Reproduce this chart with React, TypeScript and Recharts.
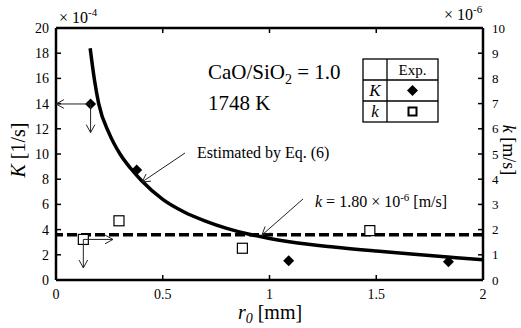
import React from "react";
import { ComposedChart, Line, Scatter, XAxis, YAxis, ReferenceLine } from "recharts";

const serif = '"Liberation Serif", "Times New Roman", serif';

// axes
const rTicks = [0, 0.5, 1, 1.5, 2];
const KTicks = [0, 2, 4, 6, 8, 10, 12, 14, 16, 18, 20];
const kTicks = [0, 1, 2, 3, 4, 5, 6, 7, 8, 9, 10];

// experimental K [x1e-4 1/s]
const expKr = [0.162, 0.378, 1.09, 1.838];
const expKv = [13.97, 8.73, 1.53, 1.45];

// experimental k [x1e-6 m/s]
const expkr = [0.128, 0.295, 0.873, 1.47];
const expkv = [1.61, 2.35, 1.26, 1.96];

// curve estimated by Eq. (6)
const estR = [0.16, 0.18, 0.2, 0.25, 0.3, 0.35, 0.4, 0.5, 0.6, 0.7, 0.8, 0.9, 1.0, 1.1, 1.3, 1.5, 1.75, 2.0];
const estK = [18.4, 15.9, 14.0, 11.6, 10.0, 8.85, 7.9, 6.4, 5.4, 4.68, 4.1, 3.65, 3.3, 3.02, 2.62, 2.3, 1.95, 1.6];

const kMean = 1.8;

const zip = (xs: number[], ys: number[]) => xs.map((r, i) => ({ r, v: ys[i] }));
const KData = zip(expKr, expKv);
const kData = zip(expkr, expkv);
const estData = zip(estR, estK);

// plot box (pixels), used for the annotation overlay
const W = 521;
const H = 328;
const L = 56;
const R = 483;
const T = 28;
const B = 280;
const sx = (r: number) => L + (r / 2) * (R - L);
const sK = (v: number) => B - (v / 20) * (B - T);
const sk = (v: number) => B - (v / 10) * (B - T);

const Diamond = (p: any) => {
  const { cx, cy } = p;
  const s = 5.5;
  return <path d={`M${cx},${cy - s}L${cx + s},${cy}L${cx},${cy + s}L${cx - s},${cy}Z`} fill="#000" />;
};

const Square = (p: any) => {
  const { cx, cy } = p;
  return <rect x={cx - 5} y={cy - 5} width={10} height={10} fill="#fff" stroke="#000" strokeWidth={1.2} />;
};

const LeftTick = (p: any) => (
  <text x={p.x} y={p.y} dy="0.35em" textAnchor="end" fontFamily={serif} fontSize={14} fill="#000">
    {p.payload.value}
  </text>
);
const RightTick = (p: any) => (
  <text x={p.x} y={p.y} dy="0.35em" textAnchor="start" fontFamily={serif} fontSize={13} fill="#000">
    {p.payload.value}
  </text>
);
const BottomTick = (p: any) => (
  <text x={p.x} y={p.y} dy="0.71em" textAnchor="middle" fontFamily={serif} fontSize={14} fill="#000">
    {p.payload.value}
  </text>
);

function Arrow({ x1, y1, x2, y2 }: { x1: number; y1: number; x2: number; y2: number }) {
  const a = Math.atan2(y2 - y1, x2 - x1);
  const len = 9;
  const w = 0.5;
  const p1 = [x2 - len * Math.cos(a - w), y2 - len * Math.sin(a - w)];
  const p2 = [x2 - len * Math.cos(a + w), y2 - len * Math.sin(a + w)];
  return (
    <g stroke="#222" strokeWidth={1} fill="none">
      <line x1={x1} y1={y1} x2={x2} y2={y2} />
      <polyline points={`${p1[0]},${p1[1]} ${x2},${y2} ${p2[0]},${p2[1]}`} />
    </g>
  );
}

function Overlay() {
  return (
    <svg width={W} height={H} style={{ position: "absolute", left: 0, top: 0, pointerEvents: "none" }}>
      <g fontFamily={serif} fill="#000">
        {/* scale factors */}
        <text x={59} y={23} fontSize={16}>
          × 10<tspan dy={-7} fontSize={11}>-4</tspan>
        </text>
        <text x={444} y={20} fontSize={16}>
          × 10<tspan dy={-7} fontSize={11}>-6</tspan>
        </text>

        {/* axis titles */}
        <text x={270} y={319} fontSize={20} textAnchor="middle">
          <tspan fontStyle="italic">r</tspan>
          <tspan fontStyle="italic" fontSize={14} dy={4}>0</tspan>
          <tspan dy={-4}> [mm]</tspan>
        </text>
        <text transform="translate(25,150) rotate(-90)" fontSize={20} textAnchor="middle">
          <tspan fontStyle="italic">K</tspan> [1/s]
        </text>
        <text transform="translate(503,150) rotate(90)" fontSize={18} textAnchor="middle">
          <tspan fontStyle="italic">k</tspan> [m/s]
        </text>

        {/* conditions */}
        <text x={208} y={79} fontSize={21}>
          CaO/SiO<tspan fontSize={14} dy={5}>2</tspan>
          <tspan dy={-5}> = 1.0</tspan>
        </text>
        <text x={208} y={110} fontSize={21}>1748 K</text>

        {/* legend table */}
        <g stroke="#000" strokeWidth={1.3} fill="none">
          <rect x={363} y={59} width={75} height={63} />
          <line x1={387} y1={59} x2={387} y2={122} />
          <line x1={363} y1={80} x2={438} y2={80} />
          <line x1={363} y1={101} x2={438} y2={101} />
        </g>
        <text x={412.5} y={75} fontSize={15} textAnchor="middle">Exp.</text>
        <text x={375} y={96} fontSize={17} fontStyle="italic" textAnchor="middle">K</text>
        <text x={375} y={117} fontSize={17} fontStyle="italic" textAnchor="middle">k</text>
        <Diamond cx={412.5} cy={90.5} />
        <rect x={408.5} y={107.5} width={8} height={8} fill="#fff" stroke="#000" strokeWidth={2} />

        {/* annotations */}
        <text x={197} y={158} fontSize={16}>Estimated by Eq. (6)</text>
        <text x={315} y={207} fontSize={16}>
          <tspan fontStyle="italic">k</tspan> = 1.80 × 10<tspan dy={-6} fontSize={11}>-6</tspan>
          <tspan dy={6}> [m/s]</tspan>
        </text>
      </g>

      <Arrow x1={185} y1={153} x2={142} y2={182} />
      <Arrow x1={303} y1={199} x2={262} y2={235} />

      <Arrow x1={sx(expKr[0])} y1={sK(expKv[0])} x2={sx(0)} y2={sK(expKv[0])} />
      <Arrow x1={sx(expKr[0])} y1={sK(expKv[0])} x2={sx(expKr[0])} y2={sK(11.7)} />
      <Arrow x1={sx(expkr[0])} y1={sk(expkv[0])} x2={sx(0.267)} y2={sk(expkv[0])} />
      <Arrow x1={sx(expkr[0])} y1={sk(expkv[0])} x2={sx(expkr[0])} y2={sk(0.48)} />
    </svg>
  );
}

const axisLine = { stroke: "#000", strokeWidth: 2.5 };
const tickLine = { stroke: "#000", strokeWidth: 1.5 };

export default function App() {
  return (
    <div style={{ position: "absolute", left: 0, top: 0, width: W, height: H, background: "#fff" }}>
      <ComposedChart width={W} height={H} margin={{ top: 0, right: 0, bottom: 0, left: 0 }}>
        <XAxis
          dataKey="r"
          type="number"
          domain={[0, 2]}
          ticks={rTicks}
          height={H - B}
          axisLine={axisLine}
          tickLine={tickLine}
          tickSize={-5}
          tickMargin={14}
          tick={BottomTick}
          allowDataOverflow
        />
        <XAxis
          xAxisId="top"
          orientation="top"
          dataKey="r"
          type="number"
          domain={[0, 2]}
          ticks={rTicks}
          height={T}
          axisLine={axisLine}
          tickLine={tickLine}
          tickSize={-5}
          tick={() => <g />}
          allowDataOverflow
        />
        <YAxis
          yAxisId="K"
          dataKey="v"
          type="number"
          domain={[0, 20]}
          ticks={KTicks}
          width={L}
          axisLine={axisLine}
          tickLine={tickLine}
          tickSize={-5}
          tickMargin={12}
          tick={LeftTick}
          allowDataOverflow
        />
        <YAxis
          yAxisId="k"
          orientation="right"
          dataKey="v"
          type="number"
          domain={[0, 10]}
          ticks={kTicks}
          width={W - R}
          axisLine={axisLine}
          tickLine={tickLine}
          tickSize={-5}
          tickMargin={14}
          tick={RightTick}
          allowDataOverflow
        />
        <ReferenceLine yAxisId="k" y={kMean} stroke="#000" strokeWidth={3.5} strokeDasharray="10 4" />
        <Line
          yAxisId="K"
          data={estData}
          dataKey="v"
          type="monotone"
          stroke="#000"
          strokeWidth={3.5}
          dot={false}
          activeDot={false}
          isAnimationActive={false}
        />
        <Scatter yAxisId="K" data={KData} shape={Diamond} isAnimationActive={false} />
        <Scatter yAxisId="k" data={kData} shape={Square} isAnimationActive={false} />
      </ComposedChart>
      <Overlay />
    </div>
  );
}
